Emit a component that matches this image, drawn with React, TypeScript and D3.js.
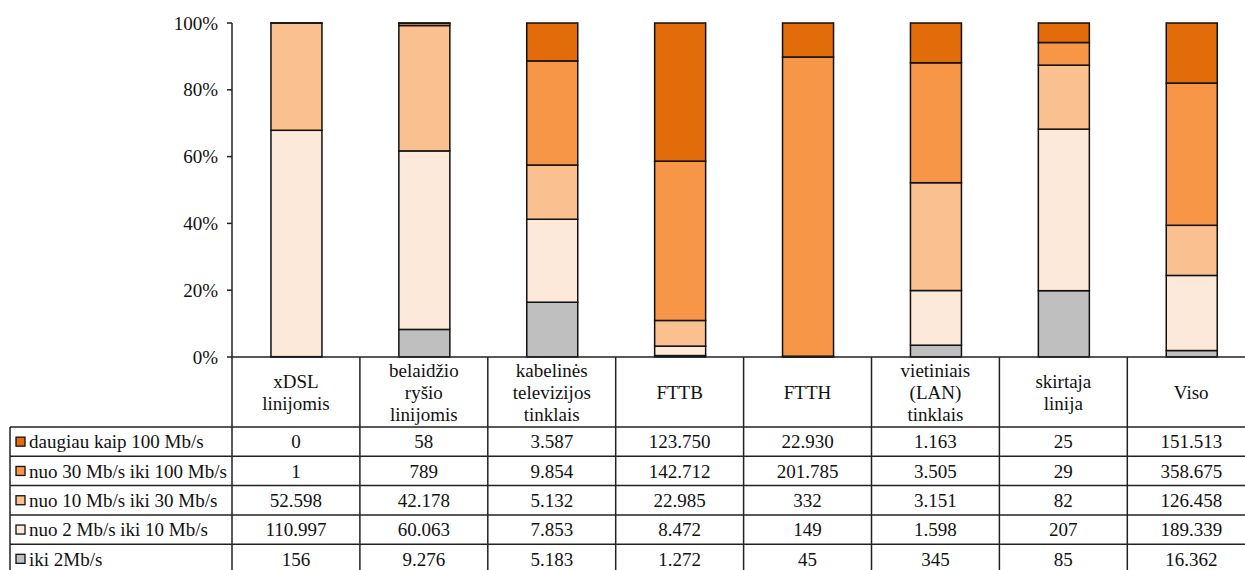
import React from "react";
import * as d3 from "d3";

const categories: string[][] = [
  ["xDSL", "linijomis"],
  ["belaidžio", "ryšio", "linijomis"],
  ["kabelinės", "televizijos", "tinklais"],
  ["FTTB"],
  ["FTTH"],
  ["vietiniais", "(LAN)", "tinklais"],
  ["skirtaja", "linija"],
  ["Viso"],
];

const seriesNames = [
  "daugiau kaip 100 Mb/s",
  "nuo 30 Mb/s iki 100 Mb/s",
  "nuo 10 Mb/s iki 30 Mb/s",
  "nuo 2 Mb/s iki 10 Mb/s",
  "iki 2Mb/s",
];
const seriesColors = ["#E36C0A", "#F79646", "#FAC090", "#FDE9D9", "#BFBFBF"];

const over100 = [0, 58, 3587, 123750, 22930, 1163, 25, 151513];
const from30to100 = [1, 789, 9854, 142712, 201785, 3505, 29, 358675];
const from10to30 = [52598, 42178, 5132, 22985, 332, 3151, 82, 126458];
const from2to10 = [110997, 60063, 7853, 8472, 149, 1598, 207, 189339];
const upTo2 = [156, 9276, 5183, 1272, 45, 345, 85, 16362];

const seriesValues = [over100, from30to100, from10to30, from2to10, upTo2];

const yTicks = [0, 0.2, 0.4, 0.6, 0.8, 1];

const locale = d3.formatLocale({ decimal: ",", thousands: ".", grouping: [3], currency: ["", ""] });
const fmtNum = locale.format(",d");

export default function App() {
  const W = 1245;
  const H = 570;
  const left = 232;
  const colW = 127.9;
  const top = 23;
  const base = 357;
  const headerBottom = 427;
  const rowH = 29.3;
  const legendLeft = 10;
  const font = "'Liberation Serif', 'DejaVu Serif', serif";
  const fs = 19;

  const x = d3
    .scaleBand<number>()
    .domain(categories.map((_, i) => i))
    .range([left, left + colW * categories.length])
    .paddingInner(0)
    .paddingOuter(0);
  const y = d3.scaleLinear().domain([0, 1]).range([base, top]);
  const barW = 51;

  const rows = categories.map((_, i) => {
    const r: any = { idx: i };
    seriesNames.forEach((s, k) => (r[s] = seriesValues[k][i]));
    return r;
  });
  const stackKeys = [...seriesNames].reverse();
  const stacked = d3.stack<any>().keys(stackKeys).offset(d3.stackOffsetExpand)(rows);
  const colorOf = (key: string) => seriesColors[seriesNames.indexOf(key)];

  const boundaries = d3.range(categories.length + 1).map((i) => left + i * colW);
  const rowTops = d3.range(seriesNames.length + 1).map((k) => headerBottom + k * rowH);
  const tableBottom = rowTops[rowTops.length - 1];
  const lineColor = "#222";
  const textStyle = { fontFamily: font, fontSize: fs };

  return (
    <svg
      width={W}
      height={H}
      style={{ position: "absolute", left: 0, top: 0, background: "#fff", fontFamily: font, fontSize: fs }}
    >
      <rect x={0} y={0} width={W} height={H} fill="#fff" />
      {stacked.map((layer) => (
        <g key={layer.key} fill={colorOf(layer.key)}>
          {layer.map((d, i) => (
            <rect
              key={i}
              x={(x(i) as number) + x.bandwidth() / 2 - barW / 2 + 0.5}
              y={y(d[1])}
              width={barW}
              height={Math.max(0, y(d[0]) - y(d[1]))}
              stroke="#111"
              strokeWidth={1.5}
            />
          ))}
        </g>
      ))}
      <line x1={left} x2={left} y1={top} y2={base} stroke={lineColor} strokeWidth={1.5} />
      {yTicks.map((t) => (
        <g key={t}>
          <line x1={left - 5} x2={left} y1={y(t)} y2={y(t)} stroke={lineColor} strokeWidth={1.5} />
          <text x={left - 14} y={y(t)} dy="0.35em" textAnchor="end" fill="#111" style={textStyle}>
            {d3.format(".0%")(t)}
          </text>
        </g>
      ))}
      <line x1={left} x2={W + 20} y1={base} y2={base} stroke={lineColor} strokeWidth={1.5} />
      {boundaries.map((bx, i) => (
        <line key={i} x1={bx} x2={bx} y1={base} y2={tableBottom} stroke={lineColor} strokeWidth={1.5} />
      ))}
      {categories.map((lines, i) => {
        const cx = (x(i) as number) + x.bandwidth() / 2;
        const cy = (base + headerBottom) / 2;
        const lh = 22;
        return (
          <text key={i} textAnchor="middle" fill="#111" style={textStyle}>
            {lines.map((ln, j) => (
              <tspan key={j} x={cx} y={cy + (j - (lines.length - 1) / 2) * lh} dy="0.35em">
                {ln}
              </tspan>
            ))}
          </text>
        );
      })}
      {rowTops.map((ry, k) => (
        <line key={k} x1={legendLeft} x2={W + 20} y1={ry} y2={ry} stroke={lineColor} strokeWidth={1.5} />
      ))}
      <line x1={legendLeft} x2={legendLeft} y1={headerBottom} y2={tableBottom} stroke={lineColor} strokeWidth={1.5} />
      {seriesNames.map((s, k) => {
        const cy = rowTops[k] + rowH / 2;
        return (
          <g key={s}>
            <rect x={16} y={cy - 4.5} width={9} height={9} fill={seriesColors[k]} stroke="#111" strokeWidth={1.3} />
            <text x={29} y={cy} dy="0.35em" fill="#111" style={textStyle}>
              {s}
            </text>
            {seriesValues[k].map((v, i) => (
              <text
                key={i}
                x={(x(i) as number) + x.bandwidth() / 2}
                y={cy}
                dy="0.35em"
                textAnchor="middle"
                fill="#111"
                style={textStyle}
              >
                {fmtNum(v)}
              </text>
            ))}
          </g>
        );
      })}
    </svg>
  );
}
